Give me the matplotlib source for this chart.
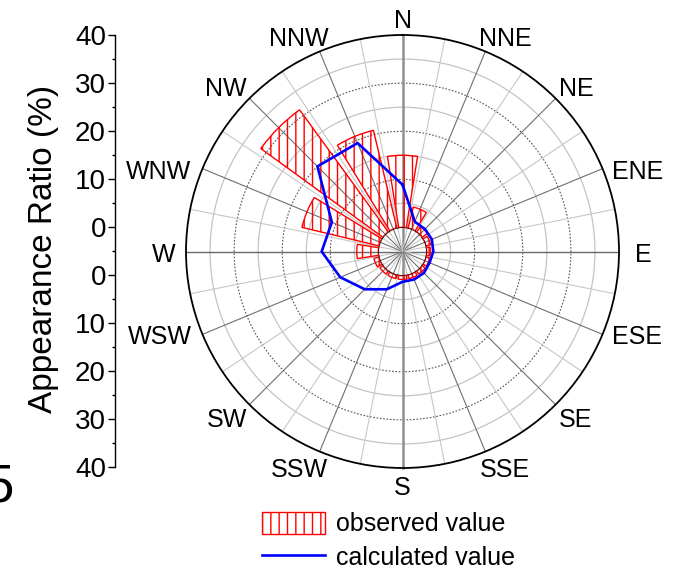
import numpy as np
import matplotlib
matplotlib.use('Agg')
import matplotlib.pyplot as plt
from matplotlib.patches import Patch
from matplotlib.lines import Line2D

# ---------------- data ----------------
directions = ['N', 'NNE', 'NE', 'ENE', 'E', 'ESE', 'SE', 'SSE',
              'S', 'SSW', 'SW', 'WSW', 'W', 'WNW', 'NW', 'NNW']
observed = [15.0, 4.5, 1.4, 1.0, 0.8, 0.8, 0.8, 0.8,
            0.8, 0.8, 0.8, 1.1, 4.5, 16.5, 31.4, 20.9]
calculated = [8.9, 1.7, 1.6, 1.6, 1.4, 1.1, 1.3, 1.3,
              1.3, 3.5, 6.1, 9.0, 11.8, 10.9, 20.0, 19.4]
axis_tick_labels = ['40', '30', '20', '10', '0', '0', '10', '20', '30', '40']
ylabel = 'Appearance Ratio (%)'
legend_labels = ['observed value', 'calculated value']

plt.rcParams['font.family'] = ['Liberation Sans', 'DejaVu Sans']
plt.rcParams['hatch.linewidth'] = 1.0

W, H = 675, 570
fig = plt.figure(figsize=(W / 100, H / 100), dpi=100)

cx, cy, R = 402.5, 251.5, 216.5
ax = fig.add_axes([(cx - R) / W, 1 - (cy + R) / H, 2 * R / W, 2 * R / H],
                  projection='polar')
ax.set_theta_zero_location('N')
ax.set_theta_direction(-1)

theta = np.deg2rad(np.arange(len(directions)) * 360.0 / len(directions))

# grid: concentric circles
tt = np.linspace(0, 2 * np.pi, 721)
for rr in range(5, 40, 5):
    if rr % 10 == 0:
        ax.plot(tt, np.full_like(tt, rr), color='#555555', lw=0.8,
                ls=(0, (1.5, 1.5)), zorder=1)
    else:
        ax.plot(tt, np.full_like(tt, rr), color='#c4c4c4', lw=0.9, zorder=1)

# grid: spokes
for k in range(32):
    a = np.deg2rad(k * 11.25)
    if k % 8 == 0:
        col, lw = ('#8f8f8f', 1.8) if k % 16 == 0 else ('#6a6a6a', 1.0)
    elif k % 2 == 0:
        col, lw = '#6f6f6f', 0.8
    else:
        col, lw = '#c8c8c8', 0.8
    ax.plot([a, a], [-5, 40], color=col, lw=lw, zorder=1, clip_on=False)

ax.bar(theta, observed, width=np.deg2rad(18), bottom=0, facecolor='none',
       edgecolor='red', hatch='||', lw=1.0, zorder=3)
ax.plot(np.append(theta, theta[0]), np.append(calculated, calculated[0]),
        color='#0000ff', lw=1.9, zorder=4, clip_on=False)

ax.set_rlim(0, 40)
ax.set_rorigin(-5)
ax.set_yticks([])
ax.grid(False)
ax.spines['inner'].set_visible(False)
ax.spines['polar'].set_linewidth(1.3)
ax.spines['polar'].set_color('black')
ax.set_xticks(theta)
ax.set_xticklabels([])
ax.set_xticks(theta + np.deg2rad(11.25), minor=True)
ax.tick_params(axis='x', which='major', direction='in', length=6, width=1.0,
               color='black')
ax.tick_params(axis='x', which='minor', direction='in', length=3, width=1.0,
               color='black')

# direction labels
anns = []
for a, lab in zip(theta, directions):
    t = ax.annotate(lab, xy=(a, 40), xytext=(0, 0), textcoords='offset pixels',
                    ha='center', va='center', fontsize=18,
                    annotation_clip=False)
    anns.append((a, t))
fig.canvas.draw()
renderer = fig.canvas.get_renderer()
for a, t in anns:
    bb = t.get_window_extent(renderer)
    w, h = bb.width, bb.height
    s, c = np.sin(a), np.cos(a)
    if abs(s) < 0.1:
        ox = 0.0
    elif abs(s) < 0.5:
        ox = s * (w / 2 + 25)
    elif abs(s) < 0.8:
        ox = s * (w / 2 + 12)
    elif abs(s) > 0.99:
        ox = np.sign(s) * (w / 2 + (16 if s > 0 else 10))
    else:
        ox = np.sign(s) * (w / 2 + (9 if s > 0 else 11))
    if abs(c) < 0.5:
        oy = 0.0
    else:
        oy = c * (h / 2 + 5)
    t.xyann = (ox, oy - 3)

# left axis
axl = fig.add_axes([115 / W, 1 - 467 / H, 0.001, 432 / H])
axl.set_ylim(-45, 45)
vals = [int(s) for s in axis_tick_labels]
half = len(vals) // 2
major_pos = [v + 5 for v in vals[:half]] + [-(v + 5) for v in vals[half:]]
axl.set_yticks(major_pos)
axl.set_yticklabels(axis_tick_labels, fontsize=20)
axl.set_yticks(np.arange(-40, 41, 10), minor=True)
axl.tick_params(axis='y', which='major', direction='out', length=5, width=1,
                pad=1.5)
axl.tick_params(axis='y', which='minor', direction='out', length=2.5, width=1)
axl.set_xticks([])
for s in ['right', 'top', 'bottom']:
    axl.spines[s].set_visible(False)
axl.spines['left'].set_linewidth(1.0)
axl.patch.set_visible(False)

fig.text(44 / W, 1 - 249 / H, ylabel, rotation=90, ha='center', va='center',
         fontsize=24)

# cut-off panel label (partly outside the picture, as in the reference)
fig.text(14 / W, 1 - 488 / H, '5', ha='right', va='center', fontsize=38)

handles = [Patch(facecolor='none', edgecolor='red', hatch='||', lw=1.0),
           Line2D([], [], color='#0000ff', lw=1.9)]
fig.legend(handles, legend_labels, loc='upper left',
           bbox_to_anchor=(262 / W, 1 - 512 / H), frameon=False, fontsize=18,
           handlelength=2.5, handleheight=0.95, handletextpad=0.45,
           labelspacing=0.36, borderpad=0, borderaxespad=0)

fig.savefig('out.png', dpi=100)
